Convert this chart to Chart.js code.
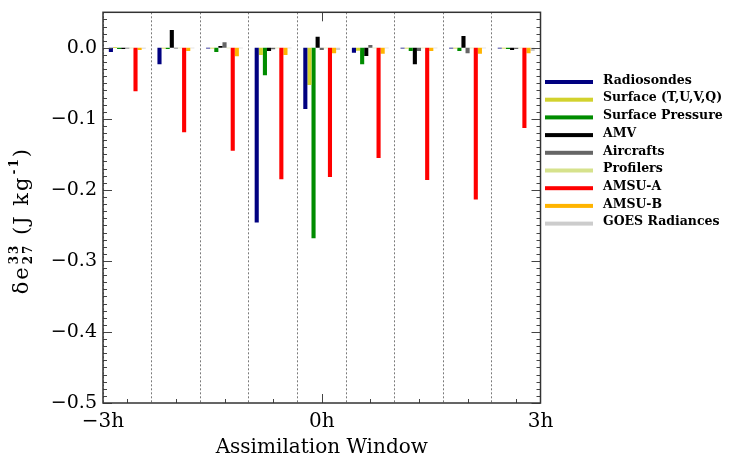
<!DOCTYPE html>
<html>
<head>
<meta charset="utf-8">
<script src="https://cdn.jsdelivr.net/npm/chart.js@4.4.1/dist/chart.umd.min.js"></script>
<style>
  body { margin: 0; background: #fff; }
  #wrap { width: 732px; height: 460px; }
</style>
</head>
<body>
<div id="wrap"><canvas id="chart" width="732" height="460"></canvas></div>
<script>
// Groups across the assimilation window (centres, in hours)
const groups = ["-2.67h", "-2h", "-1.33h", "-0.67h", "0h", "0.67h", "1.33h", "2h", "2.67h"];

// Series values (J kg-1), one per group
const radiosondes     = [-0.006, -0.023, -0.0008, -0.246, -0.086, -0.007, -0.0008, -0.0008, -0.0008];
const surfaceTUVQ     = [0.001, -0.001, -0.0008, -0.010, -0.0525, -0.004, -0.001, -0.001, -0.0008];
const surfacePressure = [-0.0015, -0.0015, -0.006, -0.0385, -0.268, -0.023, -0.0045, -0.0045, -0.0015];
const amv             = [-0.0015, 0.025, 0.0025, -0.0045, 0.0155, -0.0115, -0.023, 0.0165, -0.003];
const aircrafts       = [-0.001, -0.001, 0.008, -0.002, -0.003, 0.004, -0.0045, -0.0075, -0.0015];
const profilers       = [-0.0005, -0.0005, -0.0005, -0.0005, -0.0005, -0.0005, -0.0005, -0.0005, -0.0005];
const amsuA           = [-0.061, -0.119, -0.145, -0.185, -0.182, -0.155, -0.186, -0.2135, -0.113];
const amsuB           = [-0.003, -0.0045, -0.012, -0.010, -0.0075, -0.0085, -0.0045, -0.0085, -0.0075];
const goes            = [-0.001, -0.0005, -0.0005, -0.0005, -0.003, -0.0005, -0.0005, -0.0005, -0.0045];

const seriesNames = ["Radiosondes", "Surface (T,U,V,Q)", "Surface Pressure", "AMV", "Aircrafts",
                     "Profilers", "AMSU-A", "AMSU-B", "GOES Radiances"];
const seriesData = [radiosondes, surfaceTUVQ, surfacePressure, amv, aircrafts, profilers, amsuA, amsuB, goes];
const seriesColors = ["#000080", "#d2d22d", "#008c00", "#000000", "#666666",
                      "#d6e28c", "#ff0000", "#ffb400", "#cccccc"];

// Axis ticks
const yTicks = [0.0, -0.1, -0.2, -0.3, -0.4, -0.5];
const xTicks = [-3, 0, 3];

const FONT = "'DejaVu Serif', serif";

// box around the plot with IDL style inward ticks
const framePlugin = {
  id: "frame",
  afterDatasetsDraw(chart) {
    const { ctx, chartArea: a, scales } = chart;
    const y = scales.y, x = scales.x;
    ctx.save();
    ctx.strokeStyle = "#444";
    ctx.lineWidth = 1;
    const seg = (x1, y1, x2, y2) => { ctx.beginPath(); ctx.moveTo(x1, y1); ctx.lineTo(x2, y2); ctx.stroke(); };
    for (let i = 0; i <= 55; i++) {
      const v = 0.05 - i * 0.01;
      const py = Math.round(y.getPixelForValue(v)) + 0.5;
      const major = i % 10 === 5;
      const len = major ? 9 : 4;
      seg(a.left, py, a.left + len, py);
      seg(a.right, py, a.right - len, py);
    }
    groups.forEach((g, i) => {
      const px = Math.round(x.getPixelForValue(i)) + 0.5;
      const major = g === "0h";
      seg(px, a.bottom, px, a.bottom - (major ? 9 : 4));
      if (major) seg(px, a.top, px, a.top + 9);
    });
    ctx.strokeStyle = "#333";
    ctx.lineWidth = 1.5;
    ctx.strokeRect(a.left, a.top, a.right - a.left, a.bottom - a.top);
    ctx.restore();
  }
};

// legend to the right, lines + labels
const sideLegend = {
  id: "sideLegend",
  afterDraw(chart) {
    const { ctx, chartArea: a } = chart;
    ctx.save();
    ctx.font = "bold 12.5px " + FONT;
    ctx.textBaseline = "middle";
    chart.data.datasets.forEach((ds, i) => {
      const yy = 82 + i * 17.7;
      ctx.fillStyle = ds.backgroundColor;
      ctx.fillRect(a.right + 4.5, yy - 2, 48, 4);
      ctx.fillStyle = "#000";
      ctx.fillText(ds.label, a.right + 62.5, yy - 1.5);
    });
    ctx.restore();
  }
};

// rotated y title with super/subscripts
const yTitle = {
  id: "yTitle",
  afterDraw(chart) {
    const { ctx, chartArea: a } = chart;
    const main = "21px " + FONT, small = "bold 12px " + FONT;
    const parts = [
      { t: "\u03b4e", f: main },
      { sup: "33", sub: "27" },
      { t: " (J kg", f: main },
      { sup: "-1" },
      { t: ")", f: main }
    ];
    ctx.save();
    ctx.letterSpacing = "2px";
    let w = 0;
    parts.forEach(p => {
      if (p.t) { ctx.font = p.f; p.w = ctx.measureText(p.t).width; }
      else { ctx.font = small; p.w = Math.max(ctx.measureText(p.sup).width, p.sub ? ctx.measureText(p.sub).width : 0) + 1; }
      w += p.w;
    });
    ctx.translate(21, (a.top + a.bottom) / 2 + 13);
    ctx.rotate(-Math.PI / 2);
    ctx.fillStyle = "#000";
    ctx.textBaseline = "alphabetic";
    let cx = -w / 2;
    parts.forEach(p => {
      if (p.t) { ctx.font = p.f; ctx.fillText(p.t, cx, 7); }
      else {
        ctx.font = small;
        ctx.fillText(p.sup, cx + 1, -3);
        if (p.sub) ctx.fillText(p.sub, cx + 1, 11);
      }
      cx += p.w;
    });
    ctx.restore();
  }
};

function buildDatasets() {
  return seriesNames.map((name, i) => ({
    label: name,
    data: seriesData[i],
    backgroundColor: seriesColors[i],
    borderWidth: 0,
    barPercentage: 1.0,
    categoryPercentage: 0.76
  }));
}

const ctx = document.getElementById("chart").getContext("2d");
new Chart(ctx, {
  type: "bar",
  data: { labels: groups, datasets: buildDatasets() },
  plugins: [framePlugin, sideLegend, yTitle],
  options: {
    responsive: false,
    animation: false,
    layout: { padding: { top: 12.3, right: 191.5, left: 0, bottom: 0 } },
    plugins: { legend: { display: false }, tooltip: { enabled: false } },
    scales: {
      x: {
        type: "category",
        position: "bottom",
        ticks: { display: false },
        grid: { display: true, offset: true, drawTicks: false, color: "#7a7a7a", lineWidth: 1 },
        border: { display: false, dash: [2, 2] },
        afterFit(axis) { axis.height = 0; }
      },
      xh: {
        type: "linear",
        position: "bottom",
        offset: false,
        min: -3, max: 3,
        afterBuildTicks(axis) { axis.ticks = xTicks.map(v => ({ value: v })); },
        ticks: {
          font: { family: FONT, size: 20 }, color: "#000", padding: 7,
          callback: v => String(v).replace("-", "\u2212") + "h"
        },
        grid: { display: false, drawTicks: false, offset: false },
        border: { display: false },
        title: {
          display: true, text: "Assimilation Window", color: "#000",
          font: { family: FONT, size: 20 }, padding: { top: 0, bottom: 0 }
        },
        afterFit(axis) { axis.height = 57; }
      },
      y: {
        min: -0.5, max: 0.05,
        afterBuildTicks(axis) { axis.ticks = yTicks.map(v => ({ value: v })); },
        ticks: {
          font: { family: FONT, size: 19 }, color: "#000", padding: 6,
          callback: v => v.toFixed(1).replace("-", "\u2212")
        },
        grid: { display: false, drawTicks: false },
        border: { display: false },
        afterFit(axis) { axis.width = 103; axis.paddingTop = 0; axis.paddingBottom = 0; }
      }
    }
  }
});
</script>
</body>
</html>
